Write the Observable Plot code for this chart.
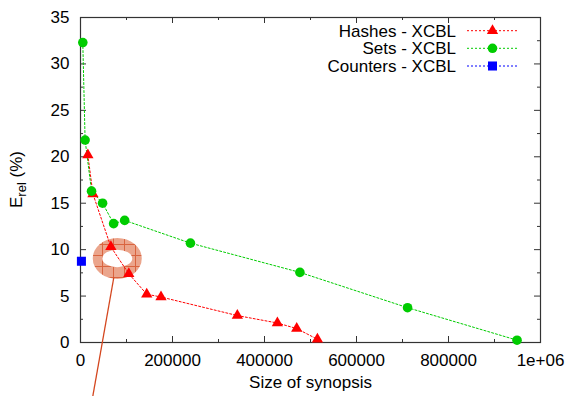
<!DOCTYPE html>
<html><head><meta charset="utf-8">
<script src="https://cdn.jsdelivr.net/npm/d3@7"></script>
<script src="https://cdn.jsdelivr.net/npm/@observablehq/plot@0.6"></script>
<style>
body{margin:0;background:#fff;}
#chart svg{display:block;}
</style>
</head><body><div id="chart"></div>
<script>
// ---- data ----
const seriesNames = ["Hashes - XCBL", "Sets - XCBL", "Counters - XCBL"];
const seriesColors = ["#ff0000", "#00cc00", "#0000ff"];
const seriesSymbols = ["triangle", "circle", "square"];

const hashesX = [16000, 27000, 66000, 105000, 144000, 175000, 341000, 428000, 470000, 515000];
const hashesY = [20.2, 16.0, 10.3, 7.4, 5.2, 4.9, 2.9, 2.1, 1.5, 0.35];

const setsX = [5000, 10000, 24000, 48000, 72000, 96000, 239000, 477000, 711000, 949000];
const setsY = [32.3, 21.8, 16.3, 15.0, 12.8, 13.15, 10.7, 7.55, 3.75, 0.25];

const countersX = [2000];
const countersY = [8.75];

const xMajorTicks = [0, 200000, 400000, 600000, 800000, 1000000];
const xTickLabels = ["0", "200000", "400000", "600000", "800000", "1e+06"];
const xMinorTicks = [100000, 300000, 500000, 700000, 900000];
const yMajorTicks = [0, 5, 10, 15, 20, 25, 30, 35];
const yMinorTicks = [2.5, 7.5, 12.5, 17.5, 22.5, 27.5, 32.5];

const xLabel = "Size of synopsis";
// annotation (circled point + pointer line)
const ringCenter = {x: 81000, y: 9.0};
const pointerFrom = {x: 72400, y: 7.0};
const pointerTo = {x: 22400, y: -7.0};

// ---- build tables ----
const rows = (xs, ys, s) => xs.map((x, i) => ({x, y: ys[i], s}));
const hashes = rows(hashesX, hashesY, 0);
const sets = rows(setsX, setsY, 1);
const counters = rows(countersX, countersY, 2);
const series = [hashes, sets, counters];

const FONT = "'Liberation Sans', Arial, Helvetica, sans-serif";

const W = 568, H = 396, ML = 80, MR = 28, MT = 17, MB = 54;
const X0 = 0, X1 = 1000000, Y0 = 0, Y1 = 35;
// tick lengths converted from pixels to data units
const pxX = (X1 - X0) / (W - ML - MR);
const pxY = (Y1 - Y0) / (H - MT - MB);
const tickStyle = {stroke: "#333", strokeWidth: 1};

function ringMark(index, scales, values, dims) {
  const g = d3.create("svg:g");
  const pat = g.append("defs").append("pattern")
    .attr("id", "ringHatch").attr("patternUnits", "userSpaceOnUse")
    .attr("width", 11).attr("height", 11).attr("x", 3).attr("y", 2);
  pat.append("rect").attr("width", 11).attr("height", 11).attr("fill", "#eba58c");
  pat.append("path").attr("d", "M0,0.5H11M0.5,0V11").attr("stroke", "#d9643f").attr("stroke-width", 1);
  const cx = scales.x(ringCenter.x), cy = scales.y(ringCenter.y);
  const ell = (rx, ry) => `M${cx - rx},${cy}a${rx},${ry} 0 1,0 ${2 * rx},0a${rx},${ry} 0 1,0 ${-2 * rx},0Z`;
  g.append("path").attr("d", ell(24.5, 20.5) + ell(15, 8.7))
    .attr("fill", "url(#ringHatch)").attr("fill-rule", "evenodd");
  return g.node();
}

function legendMark(index, scales, values, dims) {
  const g = d3.create("svg:g").attr("font-family", FONT).attr("font-size", 17);
  const right = dims.width - dims.marginRight;
  const rowsY = [30.7, 48.3, 66];
  seriesNames.forEach((name, i) => {
    const y = rowsY[i];
    g.append("text").attr("x", right - 84).attr("y", y).attr("dy", "0.35em")
      .attr("text-anchor", "end").attr("fill", "#000").text(name);
    g.append("line").attr("x1", right - 73).attr("x2", right - 22).attr("y1", y).attr("y2", y)
      .attr("stroke", seriesColors[i]).attr("stroke-width", 1).attr("stroke-dasharray", "2,2");
    const sym = [d3.symbolTriangle, d3.symbolCircle, d3.symbolSquare][i];
    const r = [4.2, 4.8, 5.1][i];
    g.append("path").attr("transform", `translate(${right - 47.5},${y})`)
      .attr("d", d3.symbol(sym, Math.PI * r * r)()).attr("fill", seriesColors[i]);
  });
  return g.node();
}

function yLabelMark(index, scales, values, dims) {
  const g = d3.create("svg:g");
  const cy = (dims.marginTop + dims.height - dims.marginBottom) / 2;
  const t = g.append("text").attr("transform", `translate(22,${cy}) rotate(-90)`)
    .attr("text-anchor", "middle").attr("font-family", FONT).attr("font-size", 17).attr("fill", "#000");
  t.append("tspan").text("E");
  t.append("tspan").attr("dy", 4).attr("font-size", 13).text("rel");
  t.append("tspan").attr("dy", -4).text(" (%)");
  return g.node();
}

const plot = Plot.plot({
  width: W,
  height: H,
  marginLeft: ML,
  marginRight: MR,
  marginTop: MT,
  marginBottom: MB,
  style: {fontFamily: FONT, fontSize: "17px", color: "#000", background: "#fff"},
  x: {domain: [X0, X1]},
  y: {domain: [Y0, Y1]},
  marks: [
    // tick labels
    Plot.axisX({ticks: xMajorTicks, tickSize: 0, tickPadding: 11, tickFormat: (d, i) => xTickLabels[i], label: null}),
    Plot.axisY({ticks: yMajorTicks, tickSize: 0, tickPadding: 11, label: null}),
    // inward ticks on all four sides
    Plot.ruleX(xMajorTicks, {x: d => d, y1: Y0, y2: Y0 + 6 * pxY, ...tickStyle}),
    Plot.ruleX(xMinorTicks, {x: d => d, y1: Y0, y2: Y0 + 3 * pxY, ...tickStyle}),
    Plot.ruleX(xMajorTicks, {x: d => d, y1: Y1, y2: Y1 - 6 * pxY, ...tickStyle}),
    Plot.ruleX(xMinorTicks, {x: d => d, y1: Y1, y2: Y1 - 3 * pxY, ...tickStyle}),
    Plot.ruleY(yMajorTicks, {y: d => d, x1: X0, x2: X0 + 6 * pxX, ...tickStyle}),
    Plot.ruleY(yMinorTicks, {y: d => d, x1: X0, x2: X0 + 3 * pxX, ...tickStyle}),
    Plot.ruleY(yMajorTicks, {y: d => d, x1: X1, x2: X1 - 6 * pxX, ...tickStyle}),
    Plot.ruleY(yMinorTicks, {y: d => d, x1: X1, x2: X1 - 3 * pxX, ...tickStyle}),
    Plot.frame({stroke: "#333", strokeWidth: 1.2}),
    // annotation ring (behind data)
    ringMark,
    // data lines
    ...series.map((d, i) => Plot.line(d, {x: "x", y: "y", stroke: seriesColors[i], strokeWidth: 1, strokeDasharray: "2,2"})),
    ...series.map((d, i) => Plot.dot(d, {x: "x", y: "y", fill: seriesColors[i], stroke: null,
      symbol: seriesSymbols[i], r: [4.2, 4.8, 5.1][i]})),
    // pointer line
    Plot.link([0], {x1: () => pointerFrom.x, y1: () => pointerFrom.y, x2: () => pointerTo.x, y2: () => pointerTo.y,
      stroke: "#d4461e", strokeWidth: 1.3, clip: false}),
    // x label
    Plot.text([xLabel], {text: d => d, frameAnchor: "bottom", dy: 45, fontSize: 17, fill: "#000"}),
    yLabelMark,
    legendMark
  ]
});
document.getElementById("chart").appendChild(plot);
</script>
</body></html>
